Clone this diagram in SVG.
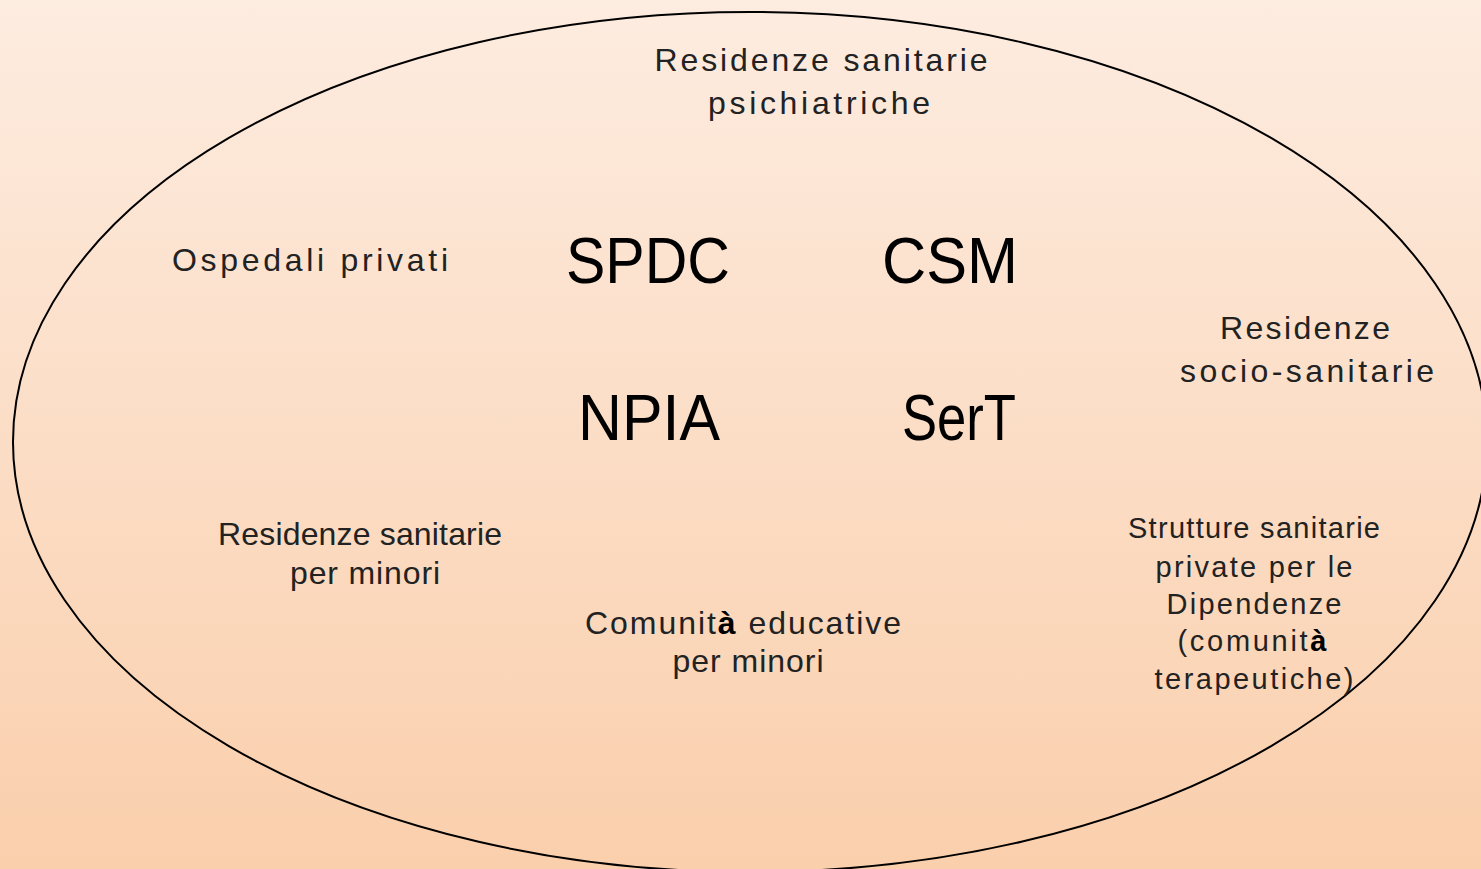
<svg xmlns="http://www.w3.org/2000/svg" width="1481" height="869" viewBox="0 0 1481 869">
<defs>
<linearGradient id="bg" x1="0" y1="0" x2="0" y2="1">
<stop offset="0" stop-color="#fdece0"/>
<stop offset="1" stop-color="#facfac"/>
</linearGradient>
</defs>
<style>
.s{font-family:"Liberation Sans","DejaVu Sans",sans-serif;font-size:32px;fill:#222;text-anchor:middle}
.m{font-size:29px}
.b{font-family:"Liberation Sans","DejaVu Sans",sans-serif;font-size:64px;fill:#000;text-anchor:middle}
.bo{font-weight:bold;fill:#000}
</style>
<rect width="1481" height="869" fill="url(#bg)"/>
<g id="ellipse"><ellipse cx="750" cy="442" rx="737" ry="430" fill="none" stroke="#000" stroke-width="2"/></g>
<g id="rsp">
<text class="s" x="821" y="71" textLength="333" lengthAdjust="spacing">Residenze sanitarie</text>
<text class="s" x="819" y="114" textLength="222" lengthAdjust="spacing">psichiatriche</text>
</g>
<g id="osp"><text class="s" x="310" y="271" textLength="276" lengthAdjust="spacing">Ospedali privati</text></g>
<g id="spdc"><text class="b" x="648" y="283" textLength="164" lengthAdjust="spacingAndGlyphs">SPDC</text></g>
<g id="csm"><text class="b" x="950" y="283" textLength="136" lengthAdjust="spacingAndGlyphs">CSM</text></g>
<g id="npia"><text class="b" x="649" y="440" textLength="142" lengthAdjust="spacingAndGlyphs">NPIA</text></g>
<g id="sert"><text class="b" x="959" y="440" textLength="114" lengthAdjust="spacingAndGlyphs">SerT</text></g>
<g id="rss">
<text class="s" x="1305" y="339" textLength="170" lengthAdjust="spacing">Residenze</text>
<text class="s" x="1307" y="382" textLength="254" lengthAdjust="spacing">socio-sanitarie</text>
</g>
<g id="rsm">
<text class="s" x="360" y="545" textLength="284" lengthAdjust="spacing">Residenze sanitarie</text>
<text class="s" x="365" y="584" textLength="150" lengthAdjust="spacing">per minori</text>
</g>
<g id="cem">
<text class="s" x="743" y="634" textLength="316" lengthAdjust="spacing">Comunit<tspan class="bo">à</tspan>  educative</text>
<text class="s" x="748" y="672" textLength="151" lengthAdjust="spacing">per minori</text>
</g>
<g id="spd">
<text class="s m" x="1254" y="538" textLength="252" lengthAdjust="spacing">Strutture  sanitarie</text>
<text class="s m" x="1254" y="577" textLength="197" lengthAdjust="spacing">private per le</text>
<text class="s m" x="1254" y="614" textLength="175" lengthAdjust="spacing">Dipendenze</text>
<text class="s m" x="1252" y="651" textLength="149" lengthAdjust="spacing">(comunit<tspan class="bo">à</tspan></text>
<text class="s m" x="1254" y="689" textLength="199" lengthAdjust="spacing">terapeutiche)</text>
</g>
</svg>
